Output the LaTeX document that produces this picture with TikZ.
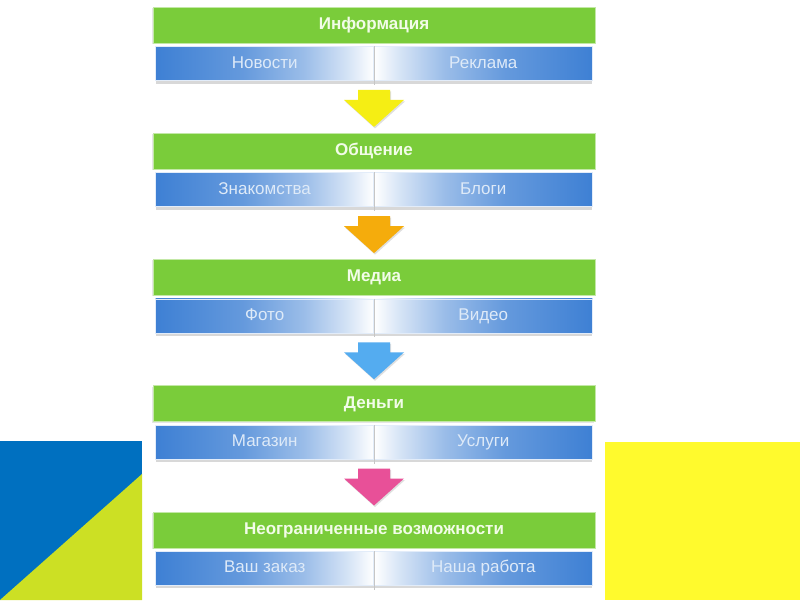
\documentclass[tikz,border=0pt]{standalone}
\usepackage{fontspec}
\setmainfont{Liberation Sans}
\usetikzlibrary{positioning, calc, shadows}

\definecolor{headgreen}{RGB}{122,204,58}
\definecolor{headtext}{RGB}{242,252,232}
\definecolor{cellblue}{RGB}{62,128,212}
\definecolor{celltext}{RGB}{222,234,248}
\definecolor{deckblue}{RGB}{0,112,192}
\definecolor{decklime}{RGB}{204,224,36}
\definecolor{deckyellow}{RGB}{255,250,45}
\definecolor{arrowyellow}{RGB}{245,238,20}
\definecolor{arroworange}{RGB}{245,172,12}
\definecolor{arrowblue}{RGB}{84,172,240}
\definecolor{arrowpink}{RGB}{232,80,152}

\pgfdeclarehorizontalshading{cellfade}{100bp}{color(0bp)=(white); color(25bp)=(white);
  color(31bp)=(cellblue!22!white); color(41bp)=(cellblue!52!white);
  color(55bp)=(cellblue!80!white); color(75bp)=(cellblue); color(100bp)=(cellblue)}

\begin{document}
\begin{tikzpicture}[x=1pt, y=1pt, node distance = 52pt,
    head/.style={rectangle, fill=headgreen, draw=white!55!headgreen, line width=0.6pt,
      minimum width=442pt, minimum height=36pt, inner sep=0pt, text=headtext,
      text height=12.5pt, text depth=3.5pt,
      font=\fontsize{17}{20}\selectfont\bfseries,
      drop shadow={opacity=0.2, shadow xshift=-1pt, shadow yshift=-1pt}},
    cell/.style={rectangle, draw=white!85!cellblue, line width=0.6pt,
      minimum width=218pt, minimum height=34pt, inner sep=0pt, text=celltext,
      text height=12.5pt, text depth=3.5pt,
      font=\fontsize{17}{20}\selectfont, shade, shading=cellfade,
      drop shadow={opacity=0.3, shadow xshift=0pt, shadow yshift=-3pt}},
    leftcell/.style={cell, shading angle=180},
    rightcell/.style={cell, shading angle=0},
    divider/.style={draw=gray!45, line width=0.8pt}
  ]
  \useasboundingbox (0,0) rectangle (800,600);
  \fill[white] (0,0) rectangle (800,600);

  \fill[deckblue] (0,0) rectangle (142,159);
  \fill[decklime] (0,0) -- (142,0) -- (142,126) -- cycle;
  \fill[deckyellow] (605,0) rectangle (800,158);

  \node[head] (h1) at (374,575) {Информация};
  \node[leftcell, below left=3pt and 0pt of h1.south] (l1) {Новости};
  \node[rightcell, below right=3pt and 0pt of h1.south] (r1) {Реклама};

  \node[head, below=of l1.south east] (h2) {Общение};
  \node[leftcell, below left=3pt and 0pt of h2.south] (l2) {Знакомства};
  \node[rightcell, below right=3pt and 0pt of h2.south] (r2) {Блоги};

  \node[head, below=of l2.south east] (h3) {Медиа};
  \node[leftcell, below left=3pt and 0pt of h3.south] (l3) {Фото};
  \node[rightcell, below right=3pt and 0pt of h3.south] (r3) {Видео};

  \node[head, below=of l3.south east] (h4) {Деньги};
  \node[leftcell, below left=3pt and 0pt of h4.south] (l4) {Магазин};
  \node[rightcell, below right=3pt and 0pt of h4.south] (r4) {Услуги};

  \node[head, below=of l4.south east] (h5) {Неограниченные возможности};
  \node[leftcell, below left=3pt and 0pt of h5.south] (l5) {Ваш заказ};
  \node[rightcell, below right=3pt and 0pt of h5.south] (r5) {Наша работа};

  \foreach \i in {1,...,5}
    \draw[divider] (l\i.north east) -- ([yshift=-4pt]l\i.south east);

  \foreach \a/\b/\c in {1/2/arrowyellow, 2/3/arroworange, 3/4/arrowblue, 4/5/arrowpink} {
    \path (l\a.south east) -- (h\b.north) coordinate[midway] (m\a);
    \fill[\c, drop shadow={opacity=0.25, shadow xshift=1pt, shadow yshift=-1.5pt}]
      ($(m\a)+(-16,17)$) -- ($(m\a)+(16,17)$) -- ($(m\a)+(16,7)$) -- ($(m\a)+(30,7)$)
      -- ($(m\a)+(0,-20)$) -- ($(m\a)+(-30,7)$) -- ($(m\a)+(-16,7)$) -- cycle;
  }
\end{tikzpicture}
\end{document}
